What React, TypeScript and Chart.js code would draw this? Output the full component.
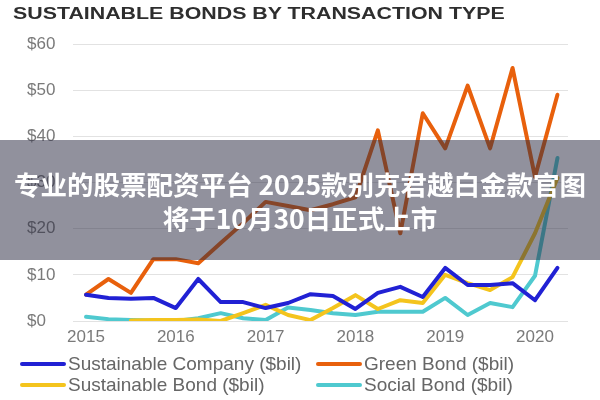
import React, { useEffect, useRef } from "react";
import { Chart, registerables } from "chart.js";

Chart.register(...registerables);

const quarters = [
  "2015 Q1", "2015 Q2", "2015 Q3", "2015 Q4",
  "2016 Q1", "2016 Q2", "2016 Q3", "2016 Q4",
  "2017 Q1", "2017 Q2", "2017 Q3", "2017 Q4",
  "2018 Q1", "2018 Q2", "2018 Q3", "2018 Q4",
  "2019 Q1", "2019 Q2", "2019 Q3", "2019 Q4",
  "2020 Q1", "2020 Q2",
];
const yearLabels = ["2015", "2016", "2017", "2018", "2019", "2020"];
const yTickValues = [0, 10, 20, 30, 40, 50, 60];

const sustainableCompany = [5.7, 5.0, 4.8, 5.0, 2.8, 9.1, 4.1, 4.1, 2.8, 3.9, 5.8, 5.4, 2.6, 6.1, 7.4, 5.2, 11.5, 7.8, 7.8, 8.2, 4.5, 11.5];
const greenBond = [5.7, 9.1, 6.1, 13.4, 13.4, 12.5, 16.9, 21.2, 25.8, 24.9, 24.0, 25.3, 26.8, 41.3, 19.0, 45.0, 37.4, 51.0, 37.4, 54.8, 31.2, 49.0];
const sustainableBond = [null, null, 0.1, 0.2, 0.2, 0.3, 0.0, 1.7, 3.5, 1.3, 0.2, 2.8, 5.6, 2.6, 4.5, 3.9, 10.0, 8.2, 6.7, 9.5, 19.0, 31.0];
const socialBond = [0.9, 0.4, 0.2, 0.1, 0.0, 0.6, 1.7, 0.6, 0.2, 2.9, 2.4, 1.7, 1.3, 2.0, 2.0, 2.0, 5.0, 1.3, 3.9, 3.0, 9.8, 35.3];

const seriesNames = [
  "Sustainable Company ($bil)",
  "Green Bond ($bil)",
  "Sustainable Bond ($bil)",
  "Social Bond ($bil)",
];
const seriesColors = ["#2121d4", "#e8600c", "#f4c41d", "#4fc9cf"];

const titleText = "SUSTAINABLE BONDS BY TRANSACTION TYPE";
const overlayLine1 = "专业的股票配资平台 2025款别克君越白金款官图";
const overlayLine2 = "将于10月30日正式上市";

const FONT = "'Liberation Sans', Arial, Helvetica, sans-serif";

function toPoints(values: (number | null)[]) {
  return values.map((v, i) => ({ x: i, y: v }));
}

export default function App() {
  const canvasRef = useRef<HTMLCanvasElement | null>(null);

  useEffect(() => {
    if (!canvasRef.current) return;
    const allSeries = [sustainableCompany, greenBond, sustainableBond, socialBond];
    const chart = new Chart(canvasRef.current, {
      type: "line",
      data: {
        labels: quarters,
        datasets: allSeries.map((s, k) => ({
          label: seriesNames[k],
          data: toPoints(s) as any,
          borderColor: seriesColors[k],
          backgroundColor: seriesColors[k],
          borderWidth: 4,
          pointRadius: 0,
          tension: 0,
          fill: false,
          spanGaps: false,
          borderJoinStyle: "round",
          borderCapStyle: "round",
        })),
      },
      options: {
        animation: false,
        responsive: false,
        layout: { padding: { left: 27, right: 32, top: 44, bottom: 0 } },
        plugins: {
          legend: { display: false },
          title: { display: false },
          tooltip: { enabled: false },
        },
        scales: {
          x: {
            type: "linear",
            min: -0.58,
            max: 21.47,
            grid: { display: false, drawTicks: false },
            border: { display: false },
            afterBuildTicks: (scale: any) => {
              scale.ticks = yearLabels.map((_, i) => ({ value: i * 4 }));
            },
            afterFit: (scale: any) => {
              scale.height = 79;
            },
            ticks: {
              autoSkip: false,
              maxRotation: 0,
              padding: 6,
              color: "#7a7a7a",
              font: { size: 17, family: FONT },
              callback: (v: any) => yearLabels[Math.round(Number(v) / 4)] ?? "",
            },
          },
          y: {
            min: 0,
            max: 60,
            afterBuildTicks: (scale: any) => {
              scale.ticks = yTickValues.map((v) => ({ value: v }));
            },
            afterFit: (scale: any) => {
              scale.width = 46;
            },
            grid: { color: "#e2e2e2", lineWidth: 1, drawTicks: false },
            border: { display: false },
            ticks: {
              crossAlign: "far",
              color: "#7a7a7a",
              font: { size: 17, family: FONT },
              callback: (v: any) => "$" + v,
            },
          },
        },
      },
    });
    return () => chart.destroy();
  }, []);

  const legendItems = [
    { name: seriesNames[0], color: seriesColors[0], left: 20, top: 364 },
    { name: seriesNames[1], color: seriesColors[1], left: 316, top: 364 },
    { name: seriesNames[2], color: seriesColors[2], left: 20, top: 385 },
    { name: seriesNames[3], color: seriesColors[3], left: 316, top: 385 },
  ];

  return (
    <div style={{ position: "fixed", left: 0, top: 0, width: 600, height: 400, background: "#fff", overflow: "hidden" }}>
      <canvas ref={canvasRef} width={600} height={400} style={{ position: "absolute", left: 0, top: 0, display: "block" }} />
      <div
        style={{
          position: "absolute",
          left: 13,
          top: 5,
          fontFamily: FONT,
          fontWeight: 700,
          fontSize: 16,
          lineHeight: "17px",
          color: "#2e2e2e",
          whiteSpace: "nowrap",
          transform: "scaleX(1.335)",
          transformOrigin: "left center",
        }}
      >
        {titleText}
      </div>
      {legendItems.map((it) => (
        <div key={it.name} style={{ position: "absolute", left: it.left, top: it.top - 11, height: 22, display: "flex", alignItems: "center", whiteSpace: "nowrap" }}>
          <div style={{ width: 46, height: 4, background: it.color, borderRadius: 2, marginRight: 2 }} />
          <span style={{ fontFamily: FONT, fontSize: 19, color: "#666666", lineHeight: "22px" }}>{it.name}</span>
        </div>
      ))}
      <div style={{ position: "absolute", left: 0, top: 140, width: 600, height: 120, background: "rgba(45,45,68,0.52)" }}>
        <div
          style={{
            position: "absolute",
            left: 0,
            width: 600,
            top: 27,
            textAlign: "center",
            color: "#fff",
            fontFamily: "'Noto Sans CJK SC', sans-serif",
            fontWeight: 700,
            fontSize: 26.5,
            lineHeight: "34px",
            whiteSpace: "nowrap",
          }}
        >
          <div>{overlayLine1}</div>
          <div>{overlayLine2}</div>
        </div>
      </div>
    </div>
  );
}
